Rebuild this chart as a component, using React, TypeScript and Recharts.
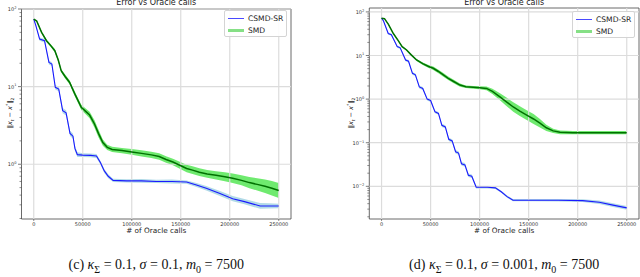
import React from 'react'
import { ComposedChart, Line, Area, XAxis, YAxis, ReferenceLine, ReferenceArea } from 'recharts'

const X_TICKS = [0, 50000, 100000, 150000, 200000, 250000]
const X_DOMAIN: [number, number] = [-12500, 262500]

// panel (c): sigma = 0.1
const cCsmdX = [0, 2000, 6000, 11000, 15500, 18500, 22000, 25500, 29500, 33000, 37000, 40000, 42000, 44500, 50000, 58000, 64000, 68000, 72000, 76000, 81000, 95000, 110000, 125000, 141000, 156000, 166000, 176000, 190000, 203000, 215000, 231000, 240000, 250000]
const cCsmdY = [74, 62, 41, 39, 20.5, 19.5, 9.8, 9.3, 4.9, 4.6, 2.5, 2.3, 1.6, 1.33, 1.31, 1.3, 1.28, 1.05, 0.82, 0.7, 0.62, 0.61, 0.61, 0.6, 0.6, 0.59, 0.54, 0.49, 0.42, 0.36, 0.33, 0.29, 0.29, 0.29]
const cCsmdSpread = [1.02, 1.03, 1.05, 1.05, 1.06, 1.06, 1.07, 1.07, 1.08, 1.08, 1.08, 1.08, 1.08, 1.07, 1.06, 1.06, 1.06, 1.06, 1.06, 1.06, 1.05, 1.05, 1.06, 1.05, 1.06, 1.05, 1.06, 1.07, 1.08, 1.08, 1.08, 1.09, 1.08, 1.07]

const cSmdX = [0, 3000, 8000, 13000, 18000, 21500, 25000, 28000, 32000, 36500, 42000, 48500, 53000, 57000, 62000, 66000, 70500, 75000, 80000, 90000, 100000, 110000, 120000, 128000, 135000, 142000, 149000, 156000, 162000, 169000, 177000, 186000, 195000, 203000, 212000, 220000, 228000, 236000, 243000, 250000]
const cSmdY = [74, 70, 50, 39, 33, 29, 22, 16, 13.5, 11.4, 8, 5.4, 4.8, 4.3, 3.3, 2.5, 1.9, 1.65, 1.55, 1.5, 1.44, 1.38, 1.32, 1.26, 1.15, 1.07, 0.97, 0.88, 0.84, 0.79, 0.75, 0.72, 0.69, 0.66, 0.62, 0.58, 0.55, 0.52, 0.49, 0.46]
const cSmdSpread = [1.01, 1.02, 1.03, 1.04, 1.04, 1.05, 1.05, 1.05, 1.06, 1.06, 1.07, 1.08, 1.09, 1.1, 1.12, 1.12, 1.1, 1.08, 1.08, 1.08, 1.09, 1.1, 1.1, 1.1, 1.1, 1.1, 1.11, 1.12, 1.12, 1.12, 1.12, 1.13, 1.14, 1.15, 1.16, 1.18, 1.2, 1.22, 1.24, 1.25]

// panel (d): sigma = 0.001
const dCsmdX = [0, 2000, 6800, 10000, 16000, 19000, 24500, 27500, 31500, 34500, 38500, 42000, 46500, 50000, 54500, 58000, 61500, 65000, 68500, 72000, 75500, 78500, 81500, 85000, 88500, 92000, 96500, 108000, 116000, 122000, 128000, 134000, 150000, 180000, 205000, 222000, 236000, 250000]
const dCsmdY = [72, 62, 32, 30, 16, 15, 7.9, 7.4, 3.9, 3.6, 1.9, 1.75, 1.0, 0.93, 0.51, 0.47, 0.25, 0.23, 0.12, 0.11, 0.062, 0.058, 0.033, 0.031, 0.018, 0.017, 0.0096, 0.0095, 0.0092, 0.0075, 0.0058, 0.0048, 0.0048, 0.0048, 0.0047, 0.0043, 0.0037, 0.0032]
const dCsmdSpread = [1.02, 1.03, 1.05, 1.05, 1.06, 1.06, 1.07, 1.07, 1.08, 1.08, 1.08, 1.08, 1.08, 1.08, 1.08, 1.08, 1.09, 1.09, 1.09, 1.09, 1.1, 1.1, 1.1, 1.1, 1.1, 1.1, 1.08, 1.06, 1.06, 1.06, 1.06, 1.06, 1.06, 1.07, 1.08, 1.1, 1.1, 1.1]

const dSmdX = [0, 3000, 7000, 12000, 17000, 21000, 25500, 30000, 35700, 42000, 48000, 52700, 58000, 63000, 68000, 74000, 80000, 86000, 93500, 100000, 107000, 113000, 120700, 127000, 134300, 141000, 148000, 155000, 161500, 168000, 175000, 182000, 195000, 210000, 225000, 240000, 250000]
const dSmdY = [72, 70, 52, 32, 22, 16, 13.4, 10.5, 7.9, 6.5, 5.6, 5.1, 4.3, 3.6, 3.0, 2.5, 2.1, 1.92, 1.86, 1.82, 1.76, 1.5, 1.13, 0.88, 0.66, 0.53, 0.43, 0.35, 0.28, 0.22, 0.187, 0.173, 0.17, 0.17, 0.17, 0.17, 0.17]
const dSmdSpread = [1.01, 1.02, 1.03, 1.03, 1.03, 1.03, 1.04, 1.05, 1.06, 1.07, 1.08, 1.1, 1.1, 1.1, 1.1, 1.1, 1.09, 1.07, 1.07, 1.08, 1.1, 1.15, 1.2, 1.25, 1.28, 1.3, 1.3, 1.3, 1.25, 1.18, 1.12, 1.1, 1.09, 1.09, 1.09, 1.09, 1.09]

type Row = { x: number; [k: string]: any }

function buildRows(series: { key: string; xs: number[]; ys: number[]; spread: number[] }[]) {
  const rows: Row[] = []
  series.forEach(s => {
    s.xs.forEach((x, i) => {
      const y = s.ys[i]
      rows.push({ x, [s.key]: y, [s.key + 'Band']: [y / s.spread[i], y * s.spread[i]] })
    })
  })
  return rows.sort((a, b) => a.x - b.x)
}

function logTicks(lo: number, hi: number) {
  const t: number[] = []
  for (let e = Math.floor(Math.log10(lo)); e <= Math.ceil(Math.log10(hi)); e++) {
    for (let m = 1; m < 10; m++) {
      const v = m * Math.pow(10, e)
      if (v >= lo && v <= hi * 1.0001) t.push(v)
    }
  }
  return t
}

const isMajor = (v: number) => Math.abs(Math.log10(v) - Math.round(Math.log10(v))) < 1e-6

const FONT = '"DejaVu Sans", sans-serif'

const YTick = (props: any) => {
  const { x, y, payload } = props
  const v = payload.value
  if (!isMajor(v)) {
    return <line x1={x} x2={x - 2} y1={y} y2={y} stroke="#444" strokeWidth={0.6} />
  }
  const e = Math.round(Math.log10(v))
  return (
    <g>
      <line x1={x} x2={x - 3.5} y1={y} y2={y} stroke="#444" strokeWidth={0.7} />
      <text x={x - 5} y={y + 2} textAnchor="end" fontSize={5} fill="#333" fontFamily={FONT}>
        10<tspan dy={-2.2} fontSize={3.6}>{e < 0 ? '\u2212' + Math.abs(e) : e}</tspan>
      </text>
    </g>
  )
}

const XTick = (props: any) => {
  const { x, y, payload } = props
  return (
    <g>
      <line x1={x} x2={x} y1={y} y2={y + 2} stroke="#444" strokeWidth={0.6} />
      <text x={x} y={y + 7} textAnchor="middle" fontSize={5} fill="#333" fontFamily={FONT}>
        {payload.value}
      </text>
    </g>
  )
}

interface PanelProps {
  left: number
  rows: Row[]
  yDomain: [number, number]
  margin: { top: number; right: number; bottom: number; left: number }
  yWidth: number
  legendLeft: number
  legendTop: number
  yLabelX: number
  caption: React.ReactNode
}

function Panel({ left, rows, yDomain, margin, yWidth, legendLeft, legendTop, yLabelX, caption }: PanelProps) {
  const yTicks = logTicks(yDomain[0], yDomain[1])
  const majors = yTicks.filter(isMajor)
  const plotLeft = margin.left + yWidth
  const plotRight = 320 - margin.right
  const plotCenter = (plotLeft + plotRight) / 2
  return (
    <div style={{ position: 'absolute', left, top: 0, width: 320, height: 277 }}>
      <ComposedChart width={320} height={240} data={rows} margin={margin}>
        <XAxis
          dataKey="x"
          type="number"
          domain={X_DOMAIN}
          ticks={X_TICKS}
          interval={0}
          allowDataOverflow
          axisLine={false}
          tickLine={false}
          tickSize={0}
          tickMargin={0}
          height={21}
          tick={<XTick />}
        />
        <YAxis
          type="number"
          scale="log"
          domain={yDomain}
          ticks={yTicks}
          allowDataOverflow
          axisLine={false}
          tickLine={false}
          tickSize={0}
          tickMargin={0}
          width={yWidth}
          interval={0}
          tick={<YTick />}
        />
        {X_TICKS.map(t => (
          <ReferenceLine key={'vx' + t} x={t} stroke="#dcdcdc" strokeWidth={1.2} />
        ))}
        {majors.map(t => (
          <ReferenceLine key={'hy' + t} y={t} stroke="#dcdcdc" strokeWidth={1.2} />
        ))}
        <Area dataKey="csmdBand" type="linear" stroke="none" fill="#add8e6" fillOpacity={0.95} connectNulls isAnimationActive={false} activeDot={false} />
        <Line dataKey="csmd" type="linear" stroke="#1a1aff" strokeWidth={1.1} dot={false} connectNulls isAnimationActive={false} activeDot={false} />
        <Area dataKey="smdBand" type="linear" stroke="none" fill="#5fe85f" fillOpacity={0.9} connectNulls isAnimationActive={false} activeDot={false} />
        <Line dataKey="smd" type="linear" stroke="#007000" strokeWidth={1.5} dot={false} connectNulls isAnimationActive={false} activeDot={false} />
        <ReferenceArea x1={X_DOMAIN[0]} x2={X_DOMAIN[1]} y1={yDomain[0]} y2={yDomain[1]} fill="none" stroke="#444" strokeWidth={0.8} ifOverflow="visible" />
      </ComposedChart>

      <div style={{ position: 'absolute', left: plotCenter - 60, width: 120, top: -1, textAlign: 'center', fontFamily: FONT, fontSize: 8, color: '#222', lineHeight: '8px', whiteSpace: 'nowrap' }}>
        Error vs Oracle calls
      </div>

      <div style={{ position: 'absolute', left: plotCenter - 60, width: 120, top: 227, textAlign: 'center', fontFamily: FONT, fontSize: 7.3, color: '#222', lineHeight: '8px', whiteSpace: 'nowrap' }}>
        # of Oracle calls
      </div>

      <div style={{ position: 'absolute', left: yLabelX - 30, top: 113 - 5, width: 60, height: 10, textAlign: 'center', transform: 'rotate(-90deg)', fontFamily: FONT, fontSize: 6.5, color: '#222', lineHeight: '10px', whiteSpace: 'nowrap' }}>
        {'\u2016'}<i>x</i><sub style={{ fontSize: 4.5 }}><i>t</i></sub> {'\u2212'} <i>x</i><sup style={{ fontSize: 4.5 }}>*</sup>{'\u2016'}<sub style={{ fontSize: 4.5 }}>2</sub>
      </div>

      <div style={{ position: 'absolute', left: legendLeft, top: legendTop, width: 63, height: 27, boxSizing: 'border-box', border: '1px solid #d4d4d4', borderRadius: 2, background: 'rgba(255,255,255,0.9)', fontFamily: FONT, fontSize: 7.6, color: '#222', whiteSpace: 'nowrap' }}>
        <div style={{ position: 'absolute', left: 3, top: 7, width: 16, height: 1.2, background: '#4a4aff' }} />
        <div style={{ position: 'absolute', left: 23, top: 3, lineHeight: '9px' }}>CSMD-SR</div>
        <div style={{ position: 'absolute', left: 3, top: 18, width: 16, height: 3, background: '#86e086' }} />
        <div style={{ position: 'absolute', left: 23, top: 15, lineHeight: '9px' }}>SMD</div>
      </div>

      <div style={{ position: 'absolute', left: 0, width: 320, top: 257, textAlign: 'center', fontFamily: '"Liberation Serif", serif', fontSize: 14, color: '#111', lineHeight: '16px', whiteSpace: 'nowrap' }}>
        <span style={{ position: 'relative', left: plotCenter - 160 }}>{caption}</span>
      </div>
    </div>
  )
}

const cRows = buildRows([
  { key: 'csmd', xs: cCsmdX, ys: cCsmdY, spread: cCsmdSpread },
  { key: 'smd', xs: cSmdX, ys: cSmdY, spread: cSmdSpread },
])

const dRows = buildRows([
  { key: 'csmd', xs: dCsmdX, ys: dCsmdY, spread: dCsmdSpread },
  { key: 'smd', xs: dSmdX, ys: dSmdY, spread: dSmdSpread },
])

const sub = (s: string) => <sub style={{ fontSize: 10 }}>{s}</sub>

export default function App() {
  return (
    <div style={{ position: 'absolute', left: 0, top: 0, width: 640, height: 277, background: '#fff', overflow: 'hidden' }}>
      <Panel
        left={0}
        rows={cRows}
        yDomain={[0.197, 100]}
        margin={{ top: 9, right: 29, bottom: 0, left: 0 }}
        yWidth={21.5}
        legendLeft={224}
        legendTop={10}
        yLabelX={8}
        caption={<>(c) <i>κ</i>{sub('Σ')} = 0.1, <i>σ</i> = 0.1, <i>m</i>{sub('0')} = 7500</>}
      />
      <Panel
        left={320}
        rows={dRows}
        yDomain={[0.00178, 123]}
        margin={{ top: 8, right: 1, bottom: 0, left: 0 }}
        yWidth={49.3}
        legendLeft={252}
        legendTop={11}
        yLabelX={29}
        caption={<>(d) <i>κ</i>{sub('Σ')} = 0.1, <i>σ</i> = 0.001, <i>m</i>{sub('0')} = 7500</>}
      />
    </div>
  )
}
